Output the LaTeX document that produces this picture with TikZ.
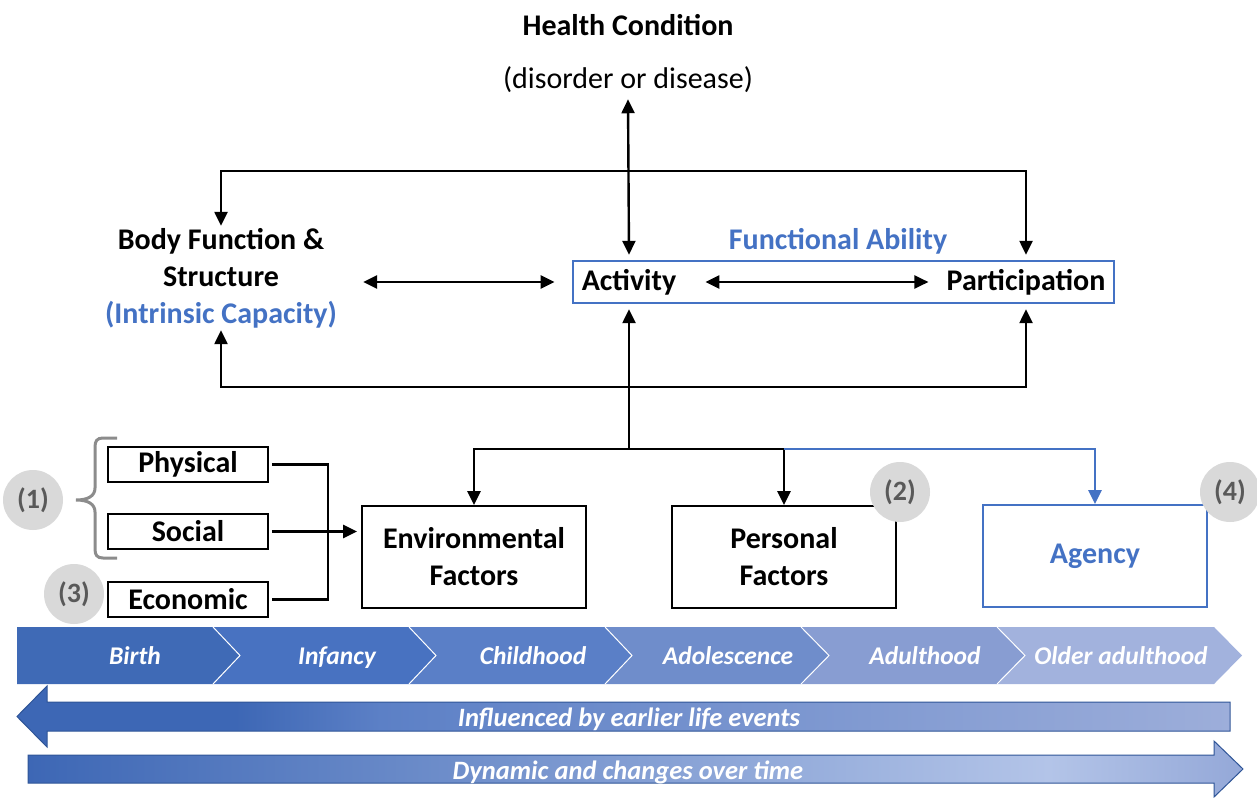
\documentclass[tikz,border=0pt]{standalone}
\usepackage{fontspec}
\setmainfont{Carlito}
\usetikzlibrary{arrows.meta}
\definecolor{fblue}{HTML}{4472C4}
\definecolor{cgray}{HTML}{D9D9D9}
\definecolor{tgray}{HTML}{595959}
\definecolor{bgray}{HTML}{8C8C8C}
\definecolor{ch1}{HTML}{3F6AB6}
\definecolor{ch2}{HTML}{4872C1}
\definecolor{ch3}{HTML}{5A7FC7}
\definecolor{ch4}{HTML}{6F8DCB}
\definecolor{ch5}{HTML}{889DD2}
\definecolor{ch6}{HTML}{A2B2DD}
\definecolor{adark}{HTML}{3D67B5}
\definecolor{amid}{HTML}{5C80C6}
\definecolor{alight}{HTML}{9DAEDA}
\definecolor{dlight}{HTML}{B3C4E8}
\definecolor{dend}{HTML}{94A8D8}
\definecolor{aedge}{HTML}{2F5597}
\pgfdeclarehorizontalshading{inflshade}{100bp}{color(0bp)=(adark); color(25bp)=(adark); color(34bp)=(adark); color(40bp)=(amid); color(75bp)=(alight); color(100bp)=(alight)}
\pgfdeclarehorizontalshading{dynshade}{100bp}{color(0bp)=(adark); color(25bp)=(adark); color(67bp)=(dlight); color(75bp)=(dend); color(100bp)=(dend)}
\begin{document}
\begin{tikzpicture}[x=1pt,y=-1pt,
  lbl/.style={font=\fontsize{30}{37}\selectfont\bfseries, align=center, inner sep=0pt},
  reg/.style={font=\fontsize{30}{37}\selectfont, align=center, inner sep=0pt},
  conn/.style={line width=2.4pt, -{Triangle[length=14pt,width=13pt]}},
  dconn/.style={line width=2.4pt, {Triangle[length=14pt,width=13pt]}-{Triangle[length=14pt,width=13pt]}},
  bconn/.style={line width=2.4pt, draw=fblue, -{Triangle[length=14pt,width=13pt]}, color=fblue},
  plain/.style={line width=2.4pt},
  bigbox/.style={draw, line width=1.8pt, minimum width=224pt, minimum height=102pt, font=\fontsize{30}{37}\selectfont\bfseries, align=center, inner sep=0pt},
  smallbox/.style={draw, line width=1.8pt, minimum width=160pt, minimum height=35pt, font=\fontsize{30}{34}\selectfont\bfseries, inner sep=0pt},
  circ/.style={circle, fill=cgray, minimum size=60pt, inner sep=0pt, text=tgray, font=\fontsize{28}{30}\selectfont\bfseries},
  stage/.style={text=white, font=\fontsize{25.5}{28}\selectfont\bfseries\itshape, inner sep=0pt, anchor=base},
  band/.style={text=white, font=\fontsize{26.5}{30}\selectfont\bfseries\itshape, inner sep=0pt, anchor=base},
  chev/.style={draw=white, line width=1pt}
]
\useasboundingbox (0,0) rectangle (1257,797);

% top labels
\node[lbl] (hc) at (628,25) {Health Condition};
\node[reg] (dis) at (628,80) {(disorder or disease)};

% body function
\node[lbl, minimum height=104pt] (bfs) at (221,278) {Body Function \&\\Structure\\\textcolor{fblue}{(Intrinsic Capacity)}};

% functional ability box
\node[draw=fblue, line width=2.2pt, minimum width=541pt, minimum height=42pt, inner sep=0pt] (fa) at (843.5,282) {};
\node[lbl, text=fblue] (fal) at (838,241) {Functional Ability};
\node[lbl, minimum height=54pt] (act) at (629,282) {Activity};
\node[lbl, minimum height=54pt] (par) at (1026,282) {Participation};

% junction coordinates
\coordinate (tl) at (629,171);
\coordinate (bl) at (629,387);
\coordinate (jn) at (629,449);
\coordinate (ej) at (328,532);

% upper connectors
\draw[dconn] ([yshift=-6pt]dis.south) -- (act.north);
\draw[conn] (tl) -| (bfs.north);
\draw[conn] (tl) -| (par.north);
\draw[dconn] ([xshift=26pt]bfs.east |- act.center) -- ([xshift=-27pt]act.west);
\draw[dconn] ([xshift=29pt]act.east) -- ([xshift=-18pt]par.west);
\draw[conn] (bl) -| (bfs.south);
\draw[conn] (bl) -| (par.south);
\draw[conn] (jn) -- (act.south);

% factor boxes
\node[bigbox] (env) at (474,557) {Environmental\\Factors};
\node[bigbox] (pers) at (784,557) {Personal\\Factors};
\node[bigbox, draw=fblue, text=fblue] (ag) at (1095,556) {Agency};

\draw[conn] (jn) -| (env.north);
\draw[conn] (jn) -| (pers.north);
\draw[bconn] (pers.north |- jn) -| (ag.north);

% environment sub-boxes
\node[smallbox] (phys) at (188,464.5) {Physical};
\node[smallbox] (soc) at (188,531.5) {Social};
\node[smallbox] (econ) at (188,599.5) {Economic};
\draw[plain] ([xshift=3pt]phys.east) -| (ej) |- ([xshift=3pt]econ.east);
\draw[conn, shorten >=4pt] ([xshift=3pt]soc.east) -- (soc.east -| env.west);

% brace
\draw[bgray, line width=3pt] (117,438) -- (103,438) .. controls (97,438) and (95,441) .. (95,447) -- (95,488) .. controls (95,496) and (88,500) .. (76,500) .. controls (88,500) and (95,504) .. (95,512) -- (95,549) .. controls (95,555) and (97,558) .. (103,558) -- (117,558);

% circles
\node[circ] (c1) at (33,500) {(1)};
\node[circ] (c2) at (900,492) {(2)};
\node[circ] (c3) at (74,594) {(3)};
\node[circ] (c4) at (1230,492) {(4)};

% chevrons
\fill[ch1] (17,627) -- (213,627) -- (240,655.5) -- (213,684) -- (17,684) -- cycle;
\fill[ch2] (213,627) -- (409,627) -- (436,655.5) -- (409,684) -- (213,684) -- (240,655.5) -- cycle;
\fill[ch3] (409,627) -- (605,627) -- (632,655.5) -- (605,684) -- (409,684) -- (436,655.5) -- cycle;
\fill[ch4] (605,627) -- (801,627) -- (829,655.5) -- (801,684) -- (605,684) -- (632,655.5) -- cycle;
\fill[ch5] (801,627) -- (997,627) -- (1025,655.5) -- (997,684) -- (801,684) -- (829,655.5) -- cycle;
\fill[ch6] (997,627) -- (1214,627) -- (1242,655.5) -- (1214,684) -- (997,684) -- (1025,655.5) -- cycle;
\draw[chev] (213,627) -- (240,655.5) -- (213,684);
\draw[chev] (409,627) -- (436,655.5) -- (409,684);
\draw[chev] (605,627) -- (632,655.5) -- (605,684);
\draw[chev] (801,627) -- (829,655.5) -- (801,684);
\draw[chev] (997,627) -- (1025,655.5) -- (997,684);

\node[stage] (s1) at (135,664) {Birth};
\node[stage] (s2) at (337,664) {Infancy};
\node[stage] (s3) at (533,664) {Childhood};
\node[stage] (s4) at (728,664) {Adolescence};
\node[stage] (s5) at (925,664) {Adulthood};
\node[stage] (s6) at (1121,664) {Older adulthood};

% timeline arrows
\draw[draw=aedge, line width=1pt, shading=inflshade, shading angle=0] (17,716.5) -- (47,686) -- (47,702) -- (1230,702) -- (1230,731) -- (47,731) -- (47,747) -- cycle;
\node[band] (infl) at (629,726) {Influenced by earlier life events};
\draw[draw=aedge, line width=1pt, shading=dynshade, shading angle=0] (28,755) -- (1214,755) -- (1214,741) -- (1243,769) -- (1214,797) -- (1214,783) -- (28,783) -- cycle;
\node[band] (dyn) at (628,779) {Dynamic and changes over time};
\end{tikzpicture}
\end{document}
